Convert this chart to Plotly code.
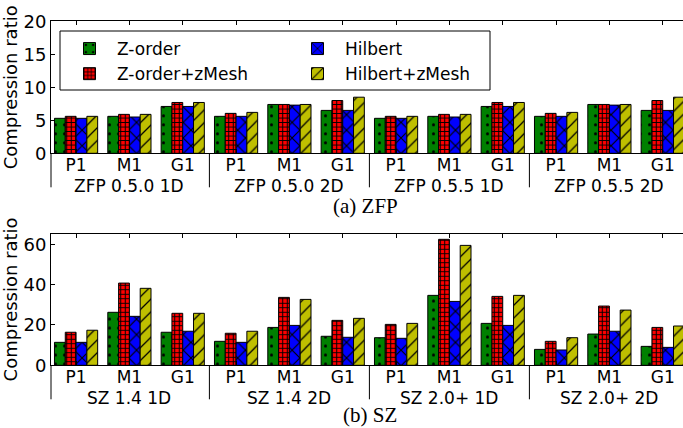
import plotly.graph_objects as go

# Two-level categories: compressor configuration / dataset
zfp_groups = ["ZFP 0.5.0 1D", "ZFP 0.5.0 2D", "ZFP 0.5.5 1D", "ZFP 0.5.5 2D"]
sz_groups = ["SZ 1.4 1D", "SZ 1.4 2D", "SZ 2.0+ 1D", "SZ 2.0+ 2D"]
datasets = ["P1", "M1", "G1"]

series_names = ["Z-order", "Z-order+zMesh", "Hilbert", "Hilbert+zMesh"]

# Compression ratios, ZFP (P1, M1, G1 per configuration)
zfp_zorder = [5.3, 5.6, 7.1, 5.6, 7.4, 6.5, 5.3, 5.6, 7.1, 5.6, 7.4, 6.5]
zfp_zorder_zmesh = [5.6, 5.9, 7.7, 6.05, 7.4, 8.0, 5.6, 5.9, 7.7, 6.05, 7.4, 8.0]
zfp_hilbert = [5.3, 5.5, 7.1, 5.6, 7.3, 6.5, 5.3, 5.5, 7.1, 5.6, 7.3, 6.5]
zfp_hilbert_zmesh = [5.6, 5.9, 7.7, 6.2, 7.4, 8.5, 5.6, 5.9, 7.7, 6.2, 7.4, 8.5]

# Compression ratios, SZ
sz_zorder = [11.4, 26.3, 16.4, 11.9, 18.8, 14.4, 13.7, 34.7, 20.8, 7.9, 15.5, 9.4]
sz_zorder_zmesh = [16.4, 40.8, 25.8, 15.9, 33.7, 22.3, 20.3, 62.5, 34.2, 11.9, 29.4, 18.8]
sz_hilbert = [11.4, 24.3, 16.9, 11.4, 19.8, 13.9, 13.4, 31.7, 19.8, 7.6, 16.9, 8.9]
sz_hilbert_zmesh = [17.4, 38.2, 25.8, 16.9, 32.7, 23.3, 20.8, 59.5, 34.7, 13.7, 27.4, 19.5]

colors = ["#008000", "#ff0000", "#0000ff", "#bfbf00"]
patterns = [
    dict(shape=".", size=9, solidity=0.09),
    dict(shape="+", size=4.5, solidity=0.4),
    dict(shape="x", size=11, solidity=0.2),
    dict(shape="/", size=9, solidity=0.14),
]
# left legend column: Z-order variants, right column: Hilbert variants
legend_refs = ["legend", "legend", "legend2", "legend2"]

FONT = "DejaVu Sans"
SERIF = "Liberation Serif"
W, H = 683, 428

n_sub = len(datasets)
n_cat = n_sub * len(zfp_groups)
positions = list(range(n_cat))
tick_text = datasets * len(zfp_groups)
group_centers = [g * n_sub + (n_sub - 1) / 2 for g in range(len(zfp_groups))]
group_bounds = [g * n_sub - 0.5 for g in range(1, len(zfp_groups))]

fig = go.Figure()

panels = [
    ([zfp_zorder, zfp_zorder_zmesh, zfp_hilbert, zfp_hilbert_zmesh], "x", "y", True),
    ([sz_zorder, sz_zorder_zmesh, sz_hilbert, sz_hilbert_zmesh], "x2", "y2", False),
]

for values, xa, ya, show in panels:
    for name, vals, col, pat, leg in zip(series_names, values, colors, patterns, legend_refs):
        fig.add_trace(go.Bar(
            x=positions, y=vals, name=name, xaxis=xa, yaxis=ya,
            showlegend=show, legend=leg,
            marker=dict(
                color=col,
                line=dict(color="black", width=1),
                pattern=dict(fgcolor="black", bgcolor=col, fillmode="replace", **pat),
            ),
        ))

x_left = 51 / W
x_range = [-0.47, 11.38]

axis_common = dict(
    showline=True, linecolor="black", linewidth=1,
    ticks="inside", ticklen=4, tickcolor="black",
    showgrid=False, zeroline=False, automargin=False,
)

# vertical extents of the two panels (paper fractions)
top_dom = [1 - 153.3 / H, 1 - 21.3 / H]
bot_dom = [1 - 365.3 / H, 1 - 233.5 / H]

xaxis_common = dict(
    domain=[x_left, 1], range=x_range, tickmode="array",
    tickvals=positions, ticktext=tick_text, mirror="ticks",
    ticklabelstandoff=-4, tickfont=dict(family=FONT, size=17, color="black"),
    **axis_common,
)
yaxis_common = dict(
    title=dict(text="Compression ratio", font=dict(family=FONT, size=18), standoff=6),
    tickfont=dict(family=FONT, size=18, color="black"),
    **axis_common,
)

legend_common = dict(
    orientation="v", xanchor="left", yanchor="top",
    bgcolor="rgba(0,0,0,0)", borderwidth=0,
    itemwidth=45, tracegroupgap=0,
    font=dict(family=FONT, size=17, color="black"),
)

shapes = [
    # legend frame
    dict(type="rect", xref="paper", yref="paper",
         x0=60 / W, x1=490 / W, y0=1 - 90 / H, y1=1 - 31 / H,
         line=dict(color="black", width=1), fillcolor="white", layer="above"),
]
annotations = []

for xa, dom, groups in [("x", top_dom, zfp_groups), ("x2", bot_dom, sz_groups)]:
    y_axis = dom[0]
    y_low = dom[0] - 34 / H
    # left divider below the axis and dividers between groups
    shapes.append(dict(type="line", xref=xa + " domain", yref="paper", x0=0, x1=0,
                       y0=y_axis, y1=y_low, line=dict(color="black", width=1)))
    for b in group_bounds:
        shapes.append(dict(type="line", xref=xa, yref="paper", x0=b, x1=b,
                           y0=y_axis, y1=y_low, line=dict(color="black", width=1)))
    for g, c in zip(groups, group_centers):
        annotations.append(dict(text=g, x=c, xref=xa, y=y_axis - 32.5 / H, yref="paper",
                                yanchor="middle", showarrow=False,
                                font=dict(family=FONT, size=17, color="black")))

annotations += [
    dict(text="(a) ZFP", x=365 / W, y=1 - 206 / H, xref="paper", yref="paper",
         yanchor="middle", showarrow=False,
         font=dict(family=SERIF, size=21, color="black")),
    dict(text="(b) SZ", x=370 / W, y=1 - 415 / H, xref="paper", yref="paper",
         yanchor="middle", showarrow=False,
         font=dict(family=SERIF, size=21, color="black")),
]

fig.update_layout(
    width=W, height=H,
    margin=dict(l=0, r=0, t=0, b=0),
    paper_bgcolor="white", plot_bgcolor="white",
    barmode="group", bargap=0.19, bargroupgap=0,
    font=dict(family=FONT, size=18, color="black"),
    xaxis=dict(anchor="y", **xaxis_common),
    yaxis=dict(domain=top_dom, range=[0, 20], anchor="x",
               tickvals=[0, 5, 10, 15, 20], **yaxis_common),
    xaxis2=dict(anchor="y2", **xaxis_common),
    yaxis2=dict(domain=bot_dom, range=[0, 65.4], anchor="x2",
                tickvals=[0, 20, 40, 60], **yaxis_common),
    legend=dict(x=62 / W, y=1 - 31 / H, **legend_common),
    legend2=dict(x=290 / W, y=1 - 31 / H, **legend_common),
    shapes=shapes,
    annotations=annotations,
)

fig.write_html("out.html")
